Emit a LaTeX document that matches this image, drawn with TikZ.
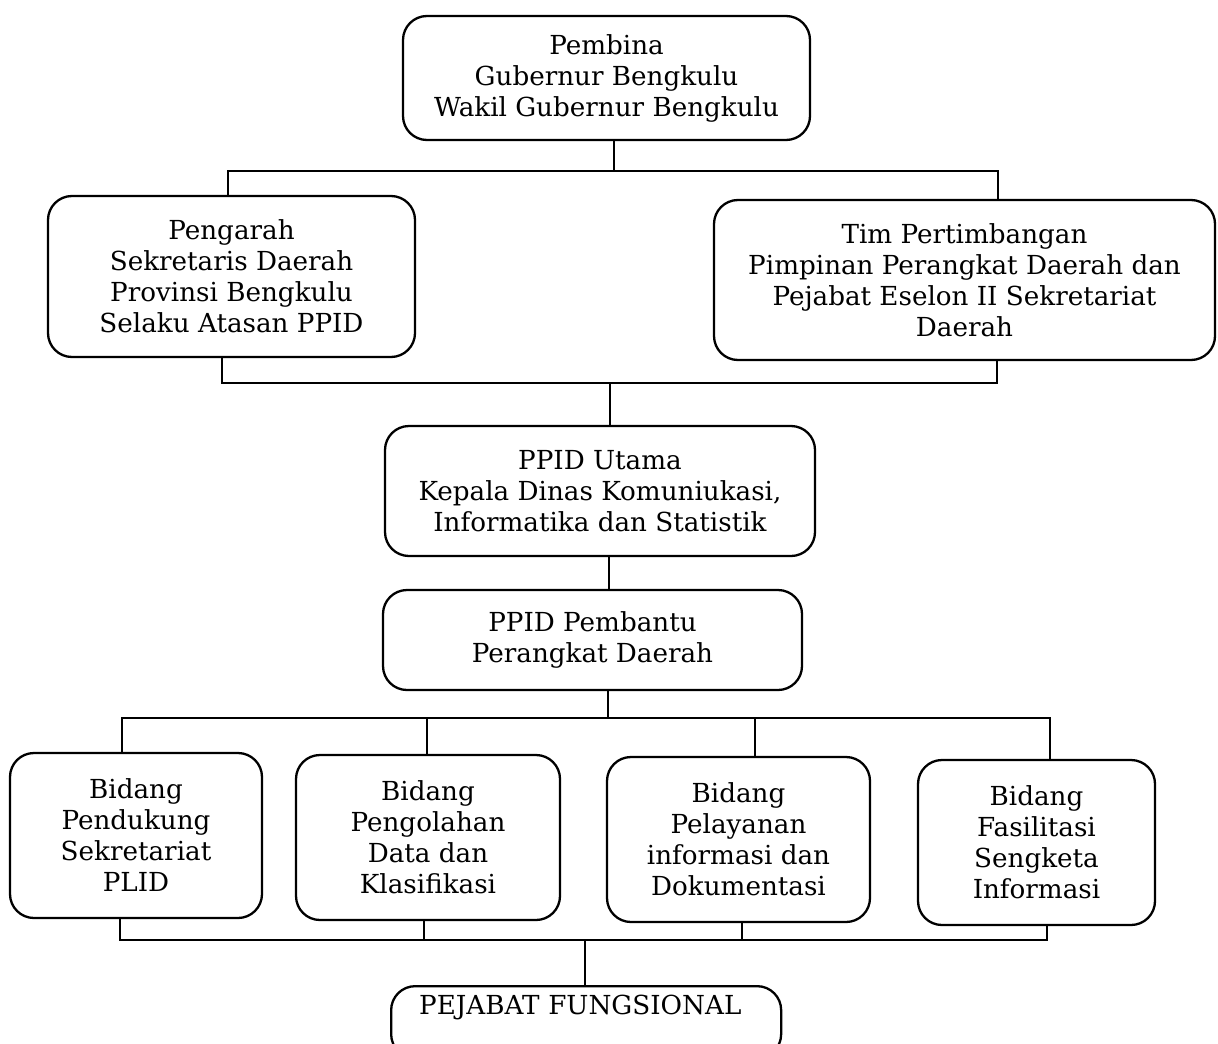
\documentclass[tikz,border=0pt]{standalone}
\usepackage{fontspec}
\setmainfont{DejaVu Serif}
\usetikzlibrary{positioning}
\tikzset{
  unitbox/.style={draw, line width=1.15pt, rounded corners=12pt, align=center,
    inner sep=2pt, font=\fontsize{13.1}{15.5}\selectfont},
  link/.style={line width=1.15pt},
}
\begin{document}
\begin{tikzpicture}[x=0.5pt,y=-0.5pt]
  \clip (0,0) rectangle (1218,1043);
  \fill[white] (0,0) rectangle (1218,1043);
  % Top level
  \node[unitbox, minimum width=203.5pt, minimum height=62pt] (pembina) at (606.5,78)
    {Pembina\\Gubernur Bengkulu\\Wakil Gubernur Bengkulu};
  \node[unitbox, minimum width=183.5pt, minimum height=80.5pt] (pengarah) at (231.5,276.5)
    {Pengarah\\Sekretaris Daerah\\Provinsi Bengkulu\\Selaku Atasan PPID};
  \node[unitbox, minimum width=250.5pt, minimum height=80pt] (timpert) at (964.5,280)
    {Tim Pertimbangan\\Pimpinan Perangkat Daerah dan\\Pejabat Eselon II Sekretariat\\Daerah};
  % PPID
  \node[unitbox, minimum width=215pt, minimum height=65pt] (utama) at (600,491)
    {PPID Utama\\Kepala Dinas Komuniukasi,\\Informatika dan Statistik};
  \node[unitbox, minimum width=209.5pt, minimum height=50pt] (pembantu) at (592.5,640)
    {PPID Pembantu\\Perangkat Daerah};
  % Bidang
  \node[unitbox, minimum width=126pt, minimum height=82.5pt] (bidA) at (136,835.5)
    {Bidang\\Pendukung\\Sekretariat\\PLID};
  \node[unitbox, minimum width=132pt, minimum height=82.5pt] (bidB) at (428,837.5)
    {Bidang\\Pengolahan\\Data dan\\Klasifikasi};
  \node[unitbox, minimum width=131.5pt, minimum height=82.5pt] (bidC) at (738.5,839.5)
    {Bidang\\Pelayanan\\informasi dan\\Dokumentasi};
  \node[unitbox, minimum width=118.5pt, minimum height=82.5pt] (bidD) at (1036.5,842.5)
    {Bidang\\Fasilitasi\\Sengketa\\Informasi};
  % Pejabat fungsional
  \node[unitbox, anchor=north west, minimum width=195pt, align=left, inner xsep=14pt,
    inner ysep=5pt, text height=9pt, text depth=17pt, text width=167pt] (fungsional) at (390,985)
    {PEJABAT FUNGSIONAL};
  % Connectors
  \coordinate (jtop) at (614,171);
  \draw[link] (pembina.south -| jtop) -- (jtop);
  \draw[link] (pengarah.north -| 228,0) |- (jtop) -| (timpert.north -| 998,0);
  \coordinate (jmid) at (610,383);
  \draw[link] (pengarah.south -| 222,0) |- (jmid) -| (timpert.south -| 997,0);
  \draw[link] (jmid) -- (utama.north -| jmid);
  \draw[link] (utama.south -| 609,0) -- (pembantu.north -| 609,0);
  \coordinate (jbid) at (608,718);
  \draw[link] (pembantu.south -| jbid) -- (jbid);
  \draw[link] (bidA.north -| 122,0) |- (jbid) -| (bidD.north -| 1050,0);
  \foreach \n/\x in {bidB/427, bidC/755}
    \draw[link] (\n.north -| \x,0) -- (\x,0 |- jbid);
  \coordinate (jbot) at (585,940);
  \draw[link] (bidA.south -| 120,0) |- (jbot) -| (bidD.south -| 1047,0);
  \foreach \n/\x in {bidB/424, bidC/742}
    \draw[link] (\n.south -| \x,0) -- (\x,0 |- jbot);
  \draw[link] (jbot) -- (fungsional.north -| jbot);
\end{tikzpicture}
\end{document}
